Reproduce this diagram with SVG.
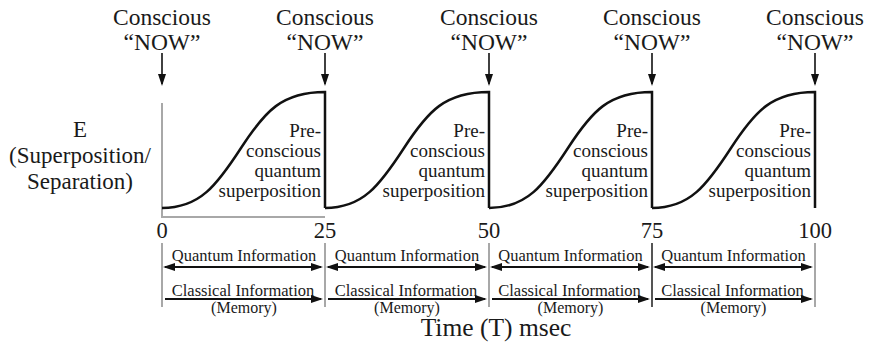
<svg xmlns="http://www.w3.org/2000/svg" width="870" height="346" viewBox="0 0 870 346">
<style>
text{font-family:"Liberation Serif","Times New Roman",serif;fill:#1a1a1a}
.now{font-size:23.5px;text-anchor:middle}
.tick{font-size:22.5px;text-anchor:middle}
.ylab{font-size:23px;text-anchor:middle}
.pre{font-size:19px;text-anchor:end}
.info{font-size:16.5px;text-anchor:middle}
.mem{font-size:16px;text-anchor:middle}
.time{font-size:25.5px;text-anchor:middle}
.curve{fill:none;stroke:#111;stroke-width:2.5;stroke-linejoin:miter}
.axis{stroke:#a8a8a8;stroke-width:2;fill:none}
.arrow{stroke:#111;stroke-width:1.6;fill:none}
.harrow{stroke:#111;stroke-width:2;fill:none}
</style>
<defs>
<marker id="ah" markerUnits="userSpaceOnUse" markerWidth="13" markerHeight="9" refX="10" refY="4" orient="auto-start-reverse" viewBox="0 0 13 9">
<path d="M0,0 L12,4 L0,8 Z" fill="#111"/>
</marker>
</defs>
<rect width="870" height="346" fill="#fff"/>

<g id="now-labels">
<g id="now0"><text class="now" x="162" y="25">Conscious</text><text class="now" x="162" y="50">“NOW”</text></g>
<g id="now1"><text class="now" x="325" y="25">Conscious</text><text class="now" x="325" y="50">“NOW”</text></g>
<g id="now2"><text class="now" x="489" y="25">Conscious</text><text class="now" x="489" y="50">“NOW”</text></g>
<g id="now3"><text class="now" x="652" y="25">Conscious</text><text class="now" x="652" y="50">“NOW”</text></g>
<g id="now4"><text class="now" x="815" y="25">Conscious</text><text class="now" x="815" y="50">“NOW”</text></g>
</g>

<g id="ylabel">
<text class="ylab" x="80" y="137">E</text>
<text class="ylab" x="80" y="163">(Superposition/</text>
<text class="ylab" x="80" y="189">Separation)</text>
</g>

<g id="axes">
<line class="axis" x1="162" y1="103" x2="162" y2="217"/>
<line class="axis" x1="161" y1="217" x2="325" y2="217"/>
</g>

<g id="segments">
<g id="seg1" transform="translate(162,92)">
<path class="curve" d="M0,116 C38,116 55,93 79,56 C103,19 120,0 163,0 L163,116"/>
<text class="pre" x="159" y="45">Pre-</text><text class="pre" x="159" y="65">conscious</text><text class="pre" x="159" y="85">quantum</text><text class="pre" x="159" y="105">superposition</text>
</g>
<g id="seg2" transform="translate(325,92)">
<path class="curve" d="M0,116 C38,116 55,93 79,56 C103,19 120,0 164,0 L164,116"/>
<text class="pre" x="160" y="45">Pre-</text><text class="pre" x="160" y="65">conscious</text><text class="pre" x="160" y="85">quantum</text><text class="pre" x="160" y="105">superposition</text>
</g>
<g id="seg3" transform="translate(489,92)">
<path class="curve" d="M0,116 C38,116 55,93 79,56 C103,19 120,0 163,0 L163,116"/>
<text class="pre" x="159" y="45">Pre-</text><text class="pre" x="159" y="65">conscious</text><text class="pre" x="159" y="85">quantum</text><text class="pre" x="159" y="105">superposition</text>
</g>
<g id="seg4" transform="translate(652,92)">
<path class="curve" d="M0,116 C38,116 55,93 79,56 C103,19 120,0 163,0 L163,116"/>
<text class="pre" x="159" y="45">Pre-</text><text class="pre" x="159" y="65">conscious</text><text class="pre" x="159" y="85">quantum</text><text class="pre" x="159" y="105">superposition</text>
</g>
</g>

<g id="ticks">
<text class="tick" x="162" y="238">0</text>
<text class="tick" x="325" y="238">25</text>
<text class="tick" x="489" y="238">50</text>
<text class="tick" x="652" y="238">75</text>
<text class="tick" x="815" y="238">100</text>
</g>

<g id="connectors">
<line class="arrow" x1="162" y1="53" x2="162" y2="84" marker-end="url(#ah)"/>
<line class="arrow" x1="325" y1="53" x2="325" y2="84" marker-end="url(#ah)"/>
<line class="arrow" x1="489" y1="53" x2="489" y2="84" marker-end="url(#ah)"/>
<line class="arrow" x1="652" y1="53" x2="652" y2="84" marker-end="url(#ah)"/>
<line class="arrow" x1="815" y1="53" x2="815" y2="84" marker-end="url(#ah)"/>

<line class="axis" x1="162" y1="243" x2="162" y2="307"/>
<line class="axis" x1="325" y1="243" x2="325" y2="307"/>
<line class="axis" x1="489" y1="243" x2="489" y2="307"/>
<line x1="652" y1="243" x2="652" y2="307" stroke="#555" stroke-width="2"/>
<line class="axis" x1="815" y1="243" x2="815" y2="307"/>

<line class="harrow" x1="165" y1="267" x2="321" y2="267" marker-start="url(#ah)" marker-end="url(#ah)"/>
<line class="harrow" x1="328" y1="267" x2="485" y2="267" marker-start="url(#ah)" marker-end="url(#ah)"/>
<line class="harrow" x1="492" y1="267" x2="648" y2="267" marker-start="url(#ah)" marker-end="url(#ah)"/>
<line class="harrow" x1="655" y1="267" x2="811" y2="267" marker-start="url(#ah)" marker-end="url(#ah)"/>

<line class="harrow" x1="165" y1="299" x2="321" y2="299" marker-end="url(#ah)"/>
<line class="harrow" x1="328" y1="299" x2="485" y2="299" marker-end="url(#ah)"/>
<line class="harrow" x1="492" y1="299" x2="648" y2="299" marker-end="url(#ah)"/>
<line class="harrow" x1="655" y1="299" x2="811" y2="299" marker-end="url(#ah)"/>
</g>

<g id="info-labels">
<g id="info1"><text class="info" x="244" y="261">Quantum Information</text><text class="info" x="243" y="296">Classical Information</text><text class="mem" x="244" y="313">(Memory)</text></g>
<g id="info2"><text class="info" x="407" y="261">Quantum Information</text><text class="info" x="406" y="296">Classical Information</text><text class="mem" x="407" y="313">(Memory)</text></g>
<g id="info3"><text class="info" x="570.5" y="261">Quantum Information</text><text class="info" x="569.5" y="296">Classical Information</text><text class="mem" x="570.5" y="313">(Memory)</text></g>
<g id="info4"><text class="info" x="733.5" y="261">Quantum Information</text><text class="info" x="732.5" y="296">Classical Information</text><text class="mem" x="733.5" y="313">(Memory)</text></g>
</g>

<g id="xlabel">
<text class="time" x="496" y="336">Time (T) msec</text>
</g>
</svg>
